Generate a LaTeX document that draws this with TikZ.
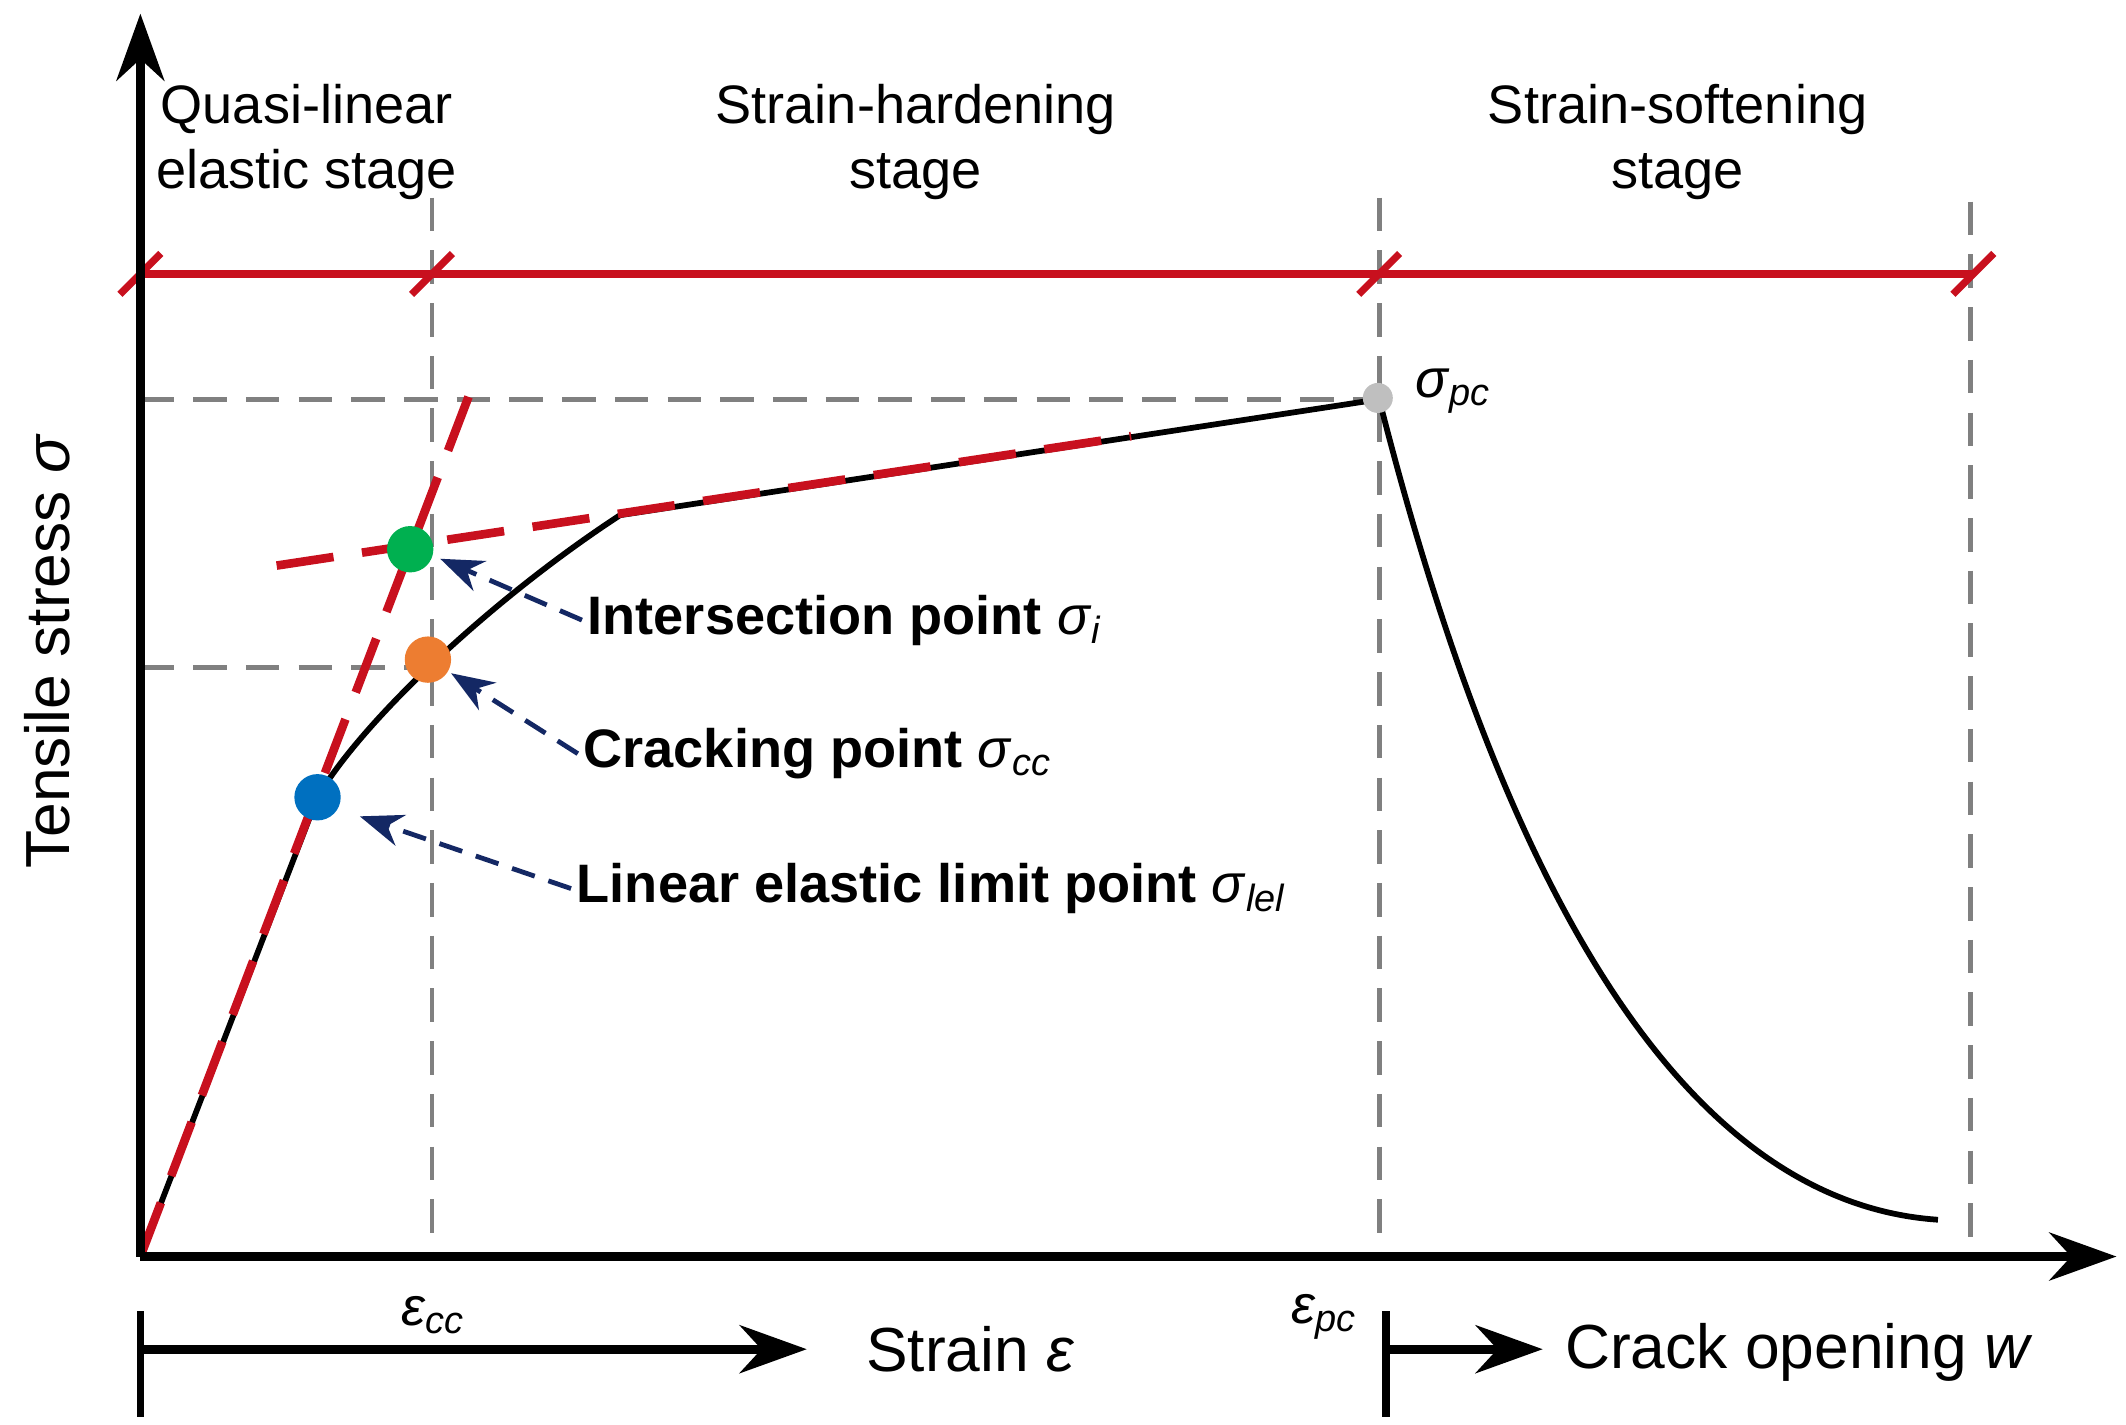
\documentclass[tikz,border=0pt]{standalone}
\usepackage{fontspec}
\setmainfont{Liberation Sans}
\usetikzlibrary{arrows.meta}
\definecolor{dred}{RGB}{200,16,30}
\definecolor{navy}{RGB}{20,40,100}
\newcommand{\gs}[2]{\textit{#1}\textsubscript{\textit{#2}}}
\begin{document}
\begin{tikzpicture}[x=0.01cm,y=-0.01cm,
  lbl/.style={font=\fontsize{11.3}{13.5}\selectfont,align=center},
  big/.style={font=\fontsize{13}{15}\selectfont},
  pt/.style={font=\fontsize{11.3}{13}\selectfont\bfseries,anchor=west,inner sep=1pt},
  gd/.style={gray,dash pattern=on 7pt off 4pt,line width=1pt},
  rd/.style={dred,dash pattern=on 12pt off 6pt,line width=1.8pt},
  na/.style={navy,dash pattern=on 5pt off 3pt,line width=1pt,-{Stealth[length=9pt]}},
  ax/.style={line width=1.8pt,-{Stealth[length=14pt,width=10pt]}},
  dot/.style={circle,inner sep=0,minimum size=0.34cm}]
\useasboundingbox (0,0) rectangle (1560,1045);
% dashed guides
\draw[gd] (317,145) -- (317,922);
\draw[gd] (1012,145) -- (1012,922);
\draw[gd] (1446,148) -- (1446,922);
\draw[gd] (103,293) -- (1010,293);
\draw[gd] (103,490) -- (315,490);
% red stage line
\draw[dred,line width=1.5pt] (103,201) -- (1448,201);
\foreach \x in {103,317,1012,1448}
  \draw[dred,line width=1.5pt] (\x-15,216) -- (\x+15,186);
% curve
\draw[line width=1.2pt] (103,922) -- (233,585) .. controls (265,530) and (360,440) .. (455,378) -- (1012,293);
\draw[line width=1.2pt] (1012,293) .. controls (1080,560) and (1200,880) .. (1422,895);
% red dashed
\draw[rd] (103,922) -- (345,288);
\draw[rd] (203,415) -- (830,320);
% axes
\draw[ax] (103,922) -- (103,10);
\draw[ax] (103,922) -- (1553,922);
% points
\node[dot,fill={rgb,255:red,0;green,176;blue,80}] (pi) at (301,403) {};
\node[dot,fill={rgb,255:red,237;green,125;blue,49}] (pc) at (314,484) {};
\node[dot,fill={rgb,255:red,0;green,112;blue,192}] (pl) at (233,585) {};
\node[dot,fill=lightgray,minimum size=0.22cm] (pp) at (1011,292) {};
\node[lbl,anchor=west] (spc) at (1026,287) {\gs{σ}{pc}};
% labels
\node[pt] (li) at (427,455) {Intersection point \gs{\mdseries σ}{\mdseries i}};
\node[pt] (lc) at (424,553) {Cracking point \gs{\mdseries σ}{\mdseries cc}};
\node[pt] (ll) at (419,652) {Linear elastic limit point \gs{\mdseries σ}{\mdseries lel}};
\draw[na] (li.west) -- (323,410);
\draw[na] (lc.west) -- (331,494);
\draw[na] (ll.west) -- (264,599);
% stage titles
\node[lbl] (s1) at (225,104) {Quasi-linear\\elastic stage};
\node[lbl] (s2) at (672,104) {Strain-hardening\\stage};
\node[lbl] (s3) at (1231,104) {Strain-softening\\stage};
% y label
\node[big,rotate=90] (yl) at (35,478) {Tensile stress \textit{σ}};
% bottom
\draw[line width=1.5pt] (103,962) -- (103,1040);
\draw[line width=1.5pt] (1017,962) -- (1017,1040);
\coordinate (a1) at (103,990);
\coordinate (a2) at (592,990);
\coordinate (b1) at (1017,990);
\coordinate (b2) at (1132,990);
\draw[ax] (a1) -- (a2);
\draw[ax] (b1) -- (b2);
\node[lbl] (ecc) at (318,965) {\gs{ε}{cc}};
\node[lbl] (epc) at (972,966) {\gs{ε}{pc}};
\node[big] (se) at (712,990) {Strain \textit{ε}};
\node[big] (cw) at (1320,992) {Crack opening \textit{w}};
\end{tikzpicture}
\end{document}
